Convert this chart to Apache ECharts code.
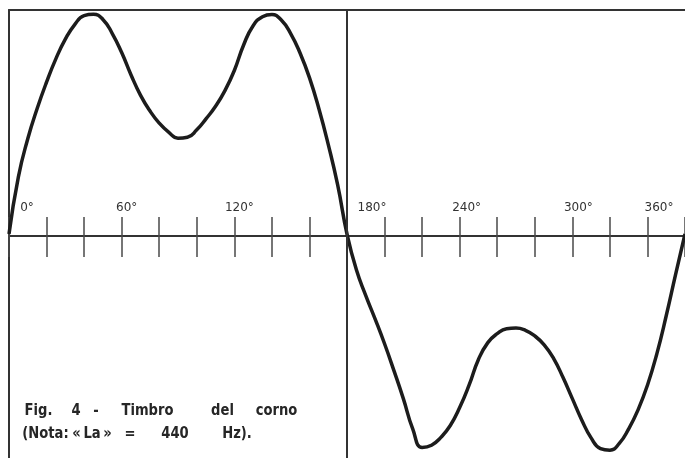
<!DOCTYPE html>
<html lang="it">
<head>
    <meta charset="UTF-8">
    <title>Timbro del corno</title>
    <script src="https://cdn.jsdelivr.net/npm/echarts@6/dist/echarts.min.js"></script>
</head>
<body style="margin:0;background:#fff;">
    <div id="main" style="width: 685px;height:458px;"></div>
</body>
<script>
    // angolo (gradi) e ampiezza, ogni 5 gradi
    var degrees = [0, 5, 10, 15, 20, 25, 30, 35, 40, 45, 50, 55, 60, 65, 70, 75, 80, 85, 90, 95, 100, 105, 110, 115, 120, 125, 130, 135, 140, 145, 150, 155, 160, 165, 170, 175, 180,
        185, 190, 195, 200, 205, 210, 215, 220, 225, 230, 235, 240, 245, 250, 255, 260, 265, 270, 275, 280, 285, 290, 295, 300, 305, 310, 315, 320, 325, 330, 335, 340, 345, 350, 355, 360];
    var amplitude = [0, 25.5, 42.5, 56, 67.8, 78.3, 87, 93.5, 97.5, 98.1, 95.8, 89.5, 81, 71, 62, 55, 49.5, 45.5, 42.8, 43.2, 46.5, 51.5, 57, 64, 73, 84.5, 93, 97, 98, 95.5, 89.5, 80.8, 69.8, 56, 40, 22, 0,
        -16, -27.5, -38, -49, -61, -73.5, -87, -95.3, -94.3, -90.8, -85.5, -77.5, -67.5, -56, -48.5, -44.5, -42.3, -42, -43, -45.5, -49.5, -55.5, -64, -73.5, -83, -91, -95.8, -96.5, -93.5, -87, -78.5, -67.5, -53.5, -36.5, -18, 0];
    var tickLabels = ['0°', '60°', '120°', '180°', '240°', '300°', '360°'];
    var caption1 = ['Fig.', '4', '-', 'Timbro', 'del', 'corno'];
    var caption2 = ['(Nota:', '«\u2009La\u2009»', '=', '440', 'Hz).'];

    // spostamento orizzontale delle etichette (come nel disegno originale)
    var labelShift = [18, 5, 5, 25, 7, 6, -26];

    var points = degrees.map(function (d, i) { return [d, amplitude[i]]; });

    var rich = {};
    labelShift.forEach(function (s, i) {
        rich['p' + i] = {
            fontFamily: 'DejaVu Sans',
            fontSize: 12,
            color: '#333',
            padding: s > 0 ? [0, 0, 0, 2 * s] : [0, -2 * s, 0, 0]
        };
    });

    // centro x di ogni parola della didascalia
    var x1 = [38.5, 76, 96, 147.5, 222.5, 276.5];
    var x2 = [45.5, 92, 130, 175, 237];
    var captionFont = 'bold 16px "DejaVu Sans"';
    var graphics = [];
    function word(w, x, y) {
        return {
            type: 'text', x: x, y: y, scaleX: 0.82,
            style: { text: w, font: captionFont, fill: '#262626', align: 'center', verticalAlign: 'middle' }
        };
    }
    caption1.forEach(function (w, i) { graphics.push(word(w, x1[i], 411)); });
    caption2.forEach(function (w, i) { graphics.push(word(w, x2[i], 434)); });

    var hidden = { show: false };
    var myChart = echarts.init(document.getElementById('main'));

    var option = {
        backgroundColor: '#fff',
        animation: false,
        grid: [
            { left: 9, top: 10, right: -2, bottom: -4 },
            { left: 9, top: 10, right: -2, height: 226 },
            { left: 9, top: 236, right: -2, bottom: -4 }
        ],
        xAxis: [{
            // bordo superiore
            gridIndex: 0, type: 'value', position: 'top', min: 0, max: 360,
            axisLine: { onZero: false, lineStyle: { color: '#333', width: 2 } },
            axisTick: hidden, axisLabel: hidden, splitLine: hidden
        }, {
            // asse orizzontale con etichette
            gridIndex: 1, type: 'value', position: 'bottom', min: 0, max: 360, interval: 20,
            axisLine: { onZero: false, lineStyle: { color: '#333', width: 2 } },
            axisTick: { show: true, inside: true, length: 19, lineStyle: { color: '#4a4a4a', width: 1.5 } },
            axisLabel: {
                inside: true,
                margin: 22,
                showMinLabel: true,
                showMaxLabel: true,
                formatter: function (v) {
                    if (v % 60 !== 0) return '';
                    var i = v / 60;
                    return '{p' + i + '|' + tickLabels[i] + '}';
                },
                rich: rich
            },
            splitLine: hidden
        }, {
            // tacche verso il basso
            gridIndex: 2, type: 'value', position: 'top', min: 0, max: 360, interval: 20,
            axisLine: { show: false, onZero: false },
            axisTick: { show: true, inside: true, length: 21, lineStyle: { color: '#4a4a4a', width: 1.5 } },
            axisLabel: hidden, splitLine: hidden
        }],
        yAxis: [{
            gridIndex: 0, type: 'value', min: -100, max: 100,
            axisLine: { show: true, onZero: false, lineStyle: { color: '#333', width: 2 } },
            axisTick: hidden, axisLabel: hidden, splitLine: hidden
        }, {
            gridIndex: 1, type: 'value', show: false
        }, {
            gridIndex: 2, type: 'value', show: false
        }],
        graphic: graphics,
        series: [{
            type: 'line',
            xAxisIndex: 0,
            yAxisIndex: 0,
            data: points,
            smooth: 0.5,
            showSymbol: false,
            lineStyle: { color: '#1c1c1c', width: 3.5 },
            markLine: {
                silent: true,
                symbol: 'none',
                label: { show: false },
                lineStyle: { color: '#333', width: 2, type: 'solid' },
                data: [{ xAxis: 180 }]
            }
        }]
    };

    myChart.setOption(option);
</script>
</html>
